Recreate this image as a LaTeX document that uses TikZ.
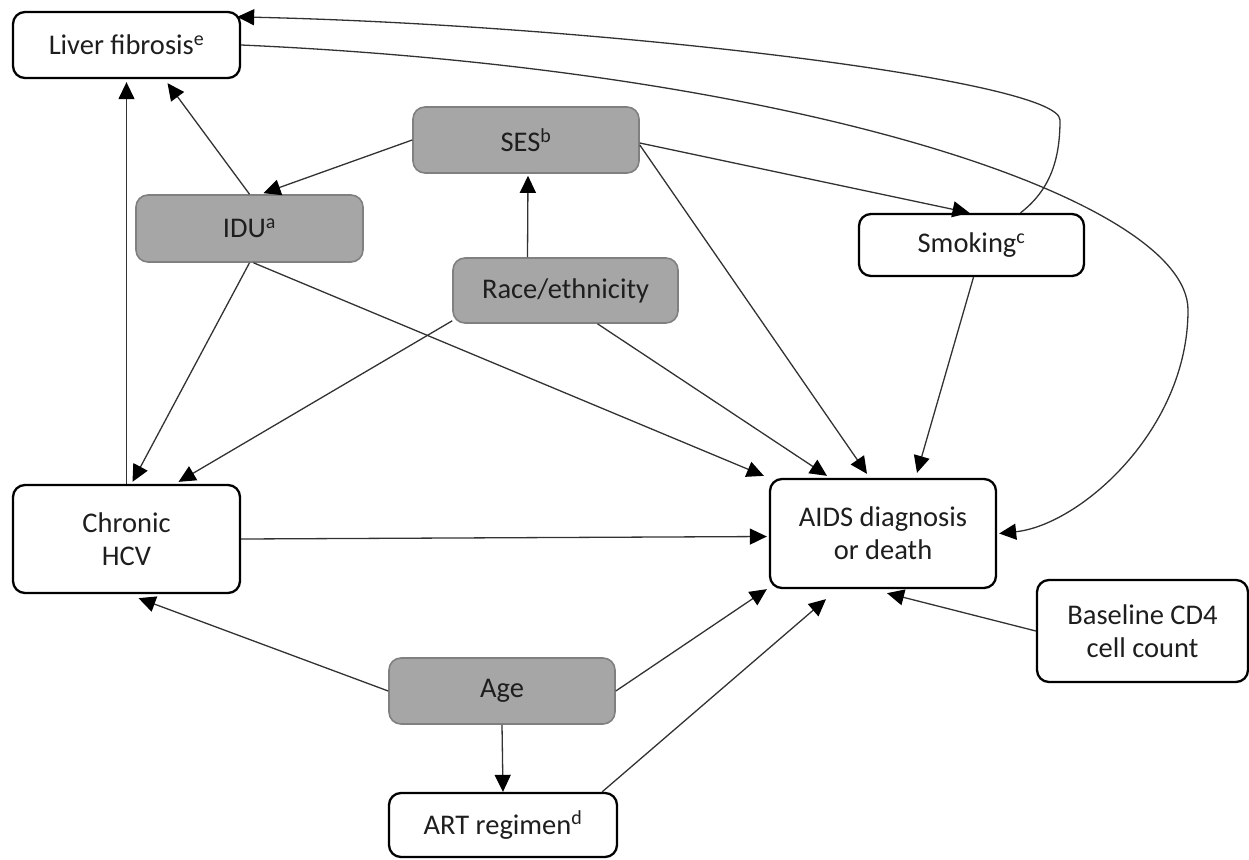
\documentclass[tikz,border=0pt]{standalone}
\usepackage{fontspec}
\setmainfont{Carlito}
\usetikzlibrary{arrows.meta,calc}
\definecolor{boxgray}{RGB}{166,166,166}
\definecolor{edgegray}{RGB}{128,128,128}
\definecolor{inkc}{RGB}{30,30,30}
\definecolor{wirec}{RGB}{50,50,50}
\begin{document}
\begin{tikzpicture}[x=1pt,y=-1pt,
  every node/.style={font=\fontsize{28.5}{33}\selectfont, text=inkc, align=center, inner sep=0pt},
  plainbox/.style={draw=black, line width=2.3pt, rounded corners=12pt, fill=white},
  shadedbox/.style={draw=edgegray, line width=1.6pt, rounded corners=12pt, fill=boxgray},
  link/.style={draw=wirec, line width=1.3pt, -{Triangle[length=17pt,width=16pt,color=black]}}
]
\useasboundingbox (0,0) rectangle (1249,859);

% variables
\node[plainbox, minimum width=227pt, minimum height=66pt] (liver) at (126.5,45) {Liver fibrosis\textsuperscript{e}};
\node[shadedbox, minimum width=226pt, minimum height=66pt] (ses) at (526,140) {SES\textsuperscript{b}};
\node[shadedbox, minimum width=227pt, minimum height=67pt] (idu) at (249.5,228.5) {IDU\textsuperscript{a}};
\node[shadedbox, minimum width=225pt, minimum height=65pt] (race) at (565.5,290.5) {Race/ethnicity};
\node[plainbox, minimum width=225pt, minimum height=62pt] (smoke) at (971.5,245) {Smoking\textsuperscript{c}};
\node[plainbox, minimum width=227pt, minimum height=108pt] (hcv) at (126.5,539) {Chronic\\HCV};
\node[plainbox, minimum width=226pt, minimum height=109pt] (aids) at (883,533.5) {AIDS diagnosis\\or death};
\node[plainbox, minimum width=211pt, minimum height=102pt] (cd4) at (1142.5,631) {Baseline CD4\\cell count};
\node[shadedbox, minimum width=226pt, minimum height=66pt] (age) at (502,691) {Age};
\node[plainbox, minimum width=228pt, minimum height=64pt] (art) at (503,825) {ART regimen\textsuperscript{d}};

% straight arrows
\draw[link] (idu.north) -- ($(liver.south)+(41,4)$);
\draw[link] (hcv.north) -- ($(liver.south)+(0,3)$);
\draw[link] (ses.west) -- ($(idu.north)+(14,-1)$);
\draw[link] ($(ses.east)+(0,3)$) -- ($(smoke.north)+(-2,0)$);
\draw[link] ($(ses.east)+(0,5)$) -- ($(aids.north)+(-16,-4)$);
\draw[link] ($(race.north)+(-38,0)$) -- ($(ses.south)+(2,2)$);
\draw[link] ($(race.south west)+(0,-3)$) -- ($(hcv.north)+(52,-2)$);
\draw[link] ($(race.south)+(32,0)$) -- ($(aids.north)+(-56,-2)$);
\draw[link] (idu.south) -- ($(hcv.north)+(6,-2)$);
\draw[link] ($(idu.south)+(4,0)$) -- ($(aids.north west)+(-5,-2)$);
\draw[link] ($(smoke.south)+(2,0)$) -- ($(aids.north)+(34,-5)$);
\draw[link] (hcv.east) -- ($(aids.west)+(-2,3)$);
\draw[link] (age.west) -- ($(hcv.south)+(12,4)$);
\draw[link] (age.east) -- ($(aids.south west)+(-2,0)$);
\draw[link] (age.south) -- (art.north);
\draw[link] ($(art.north east)+(-16,0)$) -- ($(aids.south)+(-57,10)$);
\draw[link] (cd4.west) -- ($(aids.south)+(4,4)$);

% curved arrows
\draw[link] ($(smoke.north)+(49,0)$) .. controls (1050,190) and (1060,160) .. (1060,120)
  .. controls (1060,80) and (600,25) .. ($(liver.north east)+(-4,6)$);
\draw[link] (liver.east) .. controls (800,70) and (1188,200) .. (1188,310)
  .. controls (1188,430) and (1080,525) .. ($(aids.east)+(2,0)$);
\end{tikzpicture}
\end{document}
